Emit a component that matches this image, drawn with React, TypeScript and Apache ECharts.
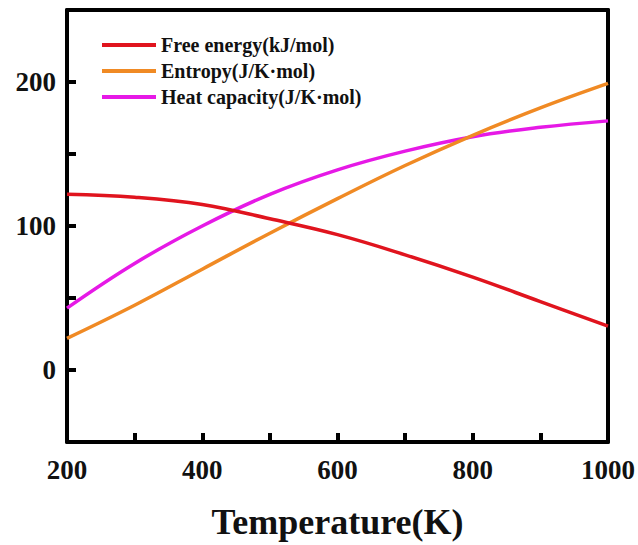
import React, { useEffect, useRef } from "react";
import * as echarts from "echarts";

const temperatures = [200, 300, 400, 500, 600, 700, 800, 900, 1000];
const freeEnergy = [122, 120, 115, 105, 94, 80, 64.5, 47.5, 30.5];
const entropy = [22, 45, 70, 95, 119, 142, 163, 182, 199];
const heatCapacity = [43, 74, 100, 122, 139, 152, 162, 168.5, 173];
const seriesNames = ["Free energy(kJ/mol)", "Entropy(J/K·mol)", "Heat capacity(J/K·mol)"];
const colors = ["#E0141E", "#F08A24", "#E619E6"];

const FONT = "'Liberation Serif', 'Times New Roman', serif";

export default function App() {
  const ref = useRef<HTMLDivElement>(null);
  useEffect(() => {
    if (!ref.current) return;
    const chart = echarts.init(ref.current, undefined, { renderer: "svg" });
    const mk = (vals: number[]) => temperatures.map((t, i) => [t, vals[i]]);
    const allData = [freeEnergy, entropy, heatCapacity];
    const axisLine = { show: true, onZero: false, lineStyle: { color: "#000", width: 4 } };
    chart.setOption({
      animation: false,
      backgroundColor: "#fff",
      grid: { left: 67, right: 30, top: 10, bottom: 100, containLabel: false },
      legend: {
        orient: "vertical",
        left: 97,
        top: 30,
        itemWidth: 54,
        itemHeight: 4,
        itemGap: 6,
        icon: "rect",
        textStyle: { fontFamily: FONT, fontWeight: "bold", fontSize: 20, color: "#111" },
        data: seriesNames,
      },
      xAxis: [
        {
          type: "value",
          min: 200,
          max: 1000,
          interval: 100,
          name: "Temperature(K)",
          nameLocation: "middle",
          nameGap: 62,
          nameTextStyle: { fontFamily: FONT, fontWeight: "bold", fontSize: 36, color: "#111" },
          axisLine,
          axisTick: { show: true, inside: true, length: 9, lineStyle: { color: "#000", width: 4 } },
          axisLabel: {
            fontFamily: FONT,
            fontWeight: "bold",
            fontSize: 27,
            color: "#111",
            margin: 14,
            formatter: (v: number) => (v % 200 === 0 ? String(v) : ""),
          },
          splitLine: { show: false },
        },
        {
          type: "value",
          position: "top",
          min: 200,
          max: 1000,
          axisLine,
          axisTick: { show: false },
          axisLabel: { show: false },
          splitLine: { show: false },
        },
      ],
      yAxis: [
        {
          type: "value",
          min: -50,
          max: 250,
          interval: 50,
          axisLine,
          axisTick: { show: true, inside: true, length: 9, lineStyle: { color: "#000", width: 4 } },
          axisLabel: {
            fontFamily: FONT,
            fontWeight: "bold",
            fontSize: 27,
            color: "#111",
            margin: 11,
            formatter: (v: number) => (v % 100 === 0 ? String(v) : ""),
          },
          splitLine: { show: false },
        },
        {
          type: "value",
          position: "right",
          min: -50,
          max: 250,
          axisLine,
          axisTick: { show: false },
          axisLabel: { show: false },
          splitLine: { show: false },
        },
      ],
      series: seriesNames.map((name, i) => ({
        name,
        type: "line",
        smooth: 0.4,
        showSymbol: false,
        symbol: "none",
        data: mk(allData[i]),
        lineStyle: { color: colors[i], width: 3.5 },
        itemStyle: { color: colors[i] },
        z: 3 - i,
      })),
    });
    return () => chart.dispose();
  }, []);
  return (
    <div
      ref={ref}
      style={{ position: "absolute", left: 0, top: 0, width: 638, height: 545 }}
    />
  );
}
